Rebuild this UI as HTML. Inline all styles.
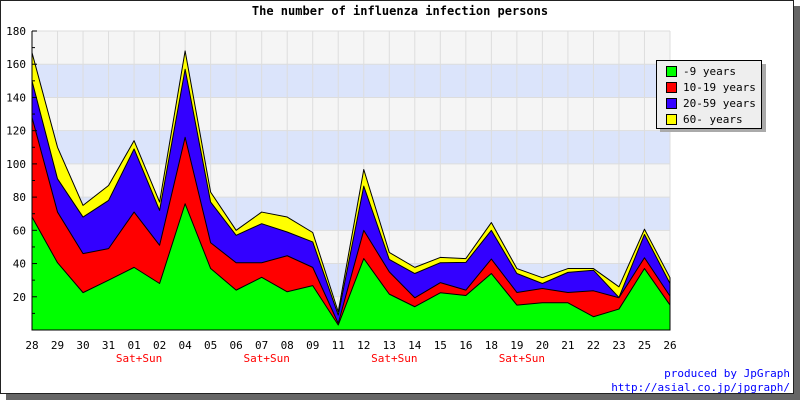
<!DOCTYPE html>
<html><head><meta charset="utf-8"><style>
html,body{margin:0;padding:0;background:#fff}
svg{display:block;font-family:"DejaVu Sans Mono","Liberation Mono",monospace}
</style></head><body>
<svg id="chart" width="800" height="400" xmlns="http://www.w3.org/2000/svg">
<rect x="6" y="6" width="794" height="394" fill="#666"/>
<rect x="0.5" y="0.5" width="793" height="393" fill="#fff" stroke="#222"/>
<text x="400" y="15" text-anchor="middle" font-size="12" font-weight="bold">The number of influenza infection persons</text>
<g id="bands"></g><g id="grid"></g><g id="areas"></g><g id="axes"></g>
<g>
<rect x="660" y="64" width="106" height="68" fill="#aaa"/>
<rect x="656.5" y="60.5" width="105" height="68" fill="#eee" stroke="#000"/>
<g id="legend"></g>
</g>
<text x="790" y="377" text-anchor="end" font-size="11" fill="#00f">produced by JpGraph</text>
<text x="790" y="391" text-anchor="end" font-size="11" fill="#00f">http://asial.co.jp/jpgraph/</text>
</svg>
<script>
const categories=["28","29","30","31","01","02","04","05","06","07","08","09","11","12","13","14","15","16","18","19","20","21","22","23","25","26"];
const weekendLabels=["","","","","Sat+Sun","","","","","Sat+Sun","","","","","Sat+Sun","","","","","Sat+Sun","","","","","",""];
const under9=[68,40.5,22.5,30,37.7,28,76,37,24,31.7,23,26.7,3,43,21.6,14,22.4,20.8,34,15,16.4,16.4,8,12.6,37,15];
const age10to19=[60,30.5,23.5,19,33.3,23,40,15.5,16.5,8.8,21.7,11,1,17,13.4,5.4,6.1,3.2,8.7,7.6,8.6,6.2,15.6,6.8,6.5,5.4];
const age20to59=[22,20,22,29,38,21,41,24.5,16.5,23.5,14.3,15.3,5,26.6,7.5,14.6,12,16.7,17.3,11.4,3,12.1,12.4,0.2,14,7.6];
const age60plus=[17,19,7,9,5,5,11,6,3,7,9,5.7,2,10,4.2,3.7,3.2,2.3,4.7,3,3.5,2.3,1,6.4,3.2,3.5];
const seriesNames=["-9 years","10-19 years","20-59 years","60- years"];
const seriesColors=["#00ff00","#ff0000","#3300ff","#ffff00"];
const yTicks=[20,40,60,80,100,120,140,160,180];
const NS="http://www.w3.org/2000/svg";
const X0=32,X1=670,Y0=330,Y1=31,YMAX=180;
const xs=i=>X0+i*(X1-X0)/(categories.length-1);
const ys=v=>Y0-v*(Y0-Y1)/YMAX;
function mk(tag,attrs,parent){const e=document.createElementNS(NS,tag);for(const k in attrs)e.setAttribute(k,attrs[k]);parent.appendChild(e);return e;}
const bands=document.getElementById('bands'),grid=document.getElementById('grid'),areas=document.getElementById('areas'),axes=document.getElementById('axes'),legend=document.getElementById('legend');
for(let v=0;v<YMAX;v+=20){
  const r=mk('rect',{x:X0,y:ys(v+20),width:X1-X0,height:ys(v)-ys(v+20),fill:((v/20)%2===0)?'#f5f5f5':'#dbe4fb'},bands);
  
  
}
yTicks.forEach(v=>{
  const l=mk('line',{x1:X0,x2:X1,y1:ys(v),y2:ys(v),stroke:'#ddd'},grid);
  
  
});
categories.forEach((c,i)=>{
  const l=mk('line',{x1:xs(i),x2:xs(i),y1:Y1,y2:Y0,stroke:'#ddd'},grid);
  
  
});
const series=[under9,age10to19,age20to59,age60plus];
let base=categories.map(()=>0);
const tops=[];
series.forEach(s=>{const top=base.map((b,i)=>b+s[i]);tops.push({base:base.slice(),top});base=top;});
for(let k=series.length-1;k>=0;k--){
  const t=tops[k];
  let d='M'+xs(0)+','+ys(0);
  t.top.forEach((v,i)=>d+=' L'+xs(i)+','+ys(v));
  d+=' L'+xs(categories.length-1)+','+ys(0)+' Z';
  const p=mk('path',{d,fill:seriesColors[k],stroke:'#000','stroke-width':1,'stroke-linejoin':'round'},areas);
  
  
}
const ax=mk('line',{x1:X0,x2:X0,y1:Y1,y2:Y0,stroke:'#000'},axes);


const bx=mk('line',{x1:X0,x2:X1,y1:Y0,y2:Y0,stroke:'#000'},axes);


for(let v=10;v<=YMAX;v+=10){
  const t=mk('line',{x1:X0,x2:X0+(v%20===0?5:3),y1:ys(v),y2:ys(v),stroke:'#000'},axes);
  
  
}
yTicks.forEach(v=>{
  const t=mk('text',{x:26,y:ys(v)+4,'text-anchor':'end','font-size':11},axes);
  t.textContent=v;
  
  
});
categories.forEach((c,i)=>{
  const t=mk('text',{x:xs(i),y:349,'text-anchor':'middle','font-size':11},axes);
  t.textContent=c;
  
  
  if(weekendLabels[i]){
    const w=mk('text',{x:xs(i)+5,y:362,'text-anchor':'middle','font-size':11,fill:'#f00'},axes);
    w.textContent=weekendLabels[i];
    
    
  }
});
seriesNames.forEach((n,i)=>{
  const y=66+i*16;
  const r=mk('rect',{x:666.5,y:y+0.5,width:10,height:10,fill:seriesColors[i],stroke:'#000'},legend);
  
  
  const t=mk('text',{x:683,y:y+9,'font-size':11},legend);
  t.textContent=n;
  
  
});
</script>
</body></html>
